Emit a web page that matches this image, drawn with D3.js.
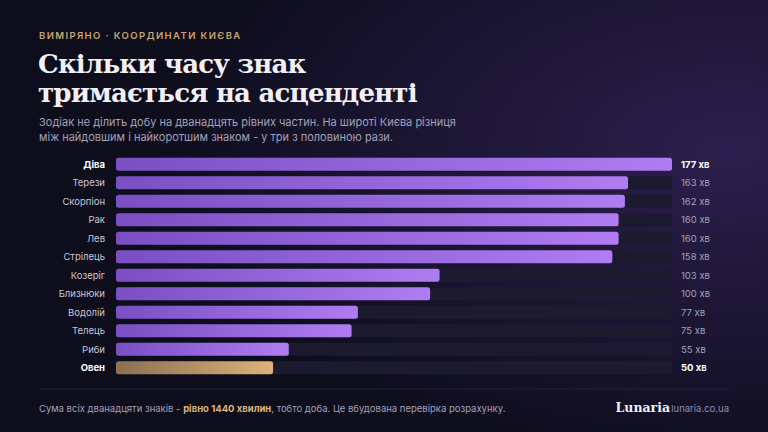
<!DOCTYPE html>
<html><head><meta charset="utf-8">
<script src="https://cdn.jsdelivr.net/npm/d3@7"></script>
<style>body{margin:0;background:#0d0d1c;}svg{display:block;font-family:Inter,"Noto Sans",sans-serif;}</style>
</head><body>
<svg id="c" width="768" height="432"></svg>
<script>
var signs = ["Діва","Терези","Скорпіон","Рак","Лев","Стрілець","Козеріг","Близнюки","Водолій","Телець","Риби","Овен"];
var minutes = [177,163,162,160,160,158,103,100,77,75,55,50];

var svg = d3.select("#c");
var defs = svg.append("defs");
var bg = defs.append("radialGradient").attr("id","glow").attr("cx","0.95").attr("cy","0.35").attr("r","0.75");
bg.append("stop").attr("offset","0").attr("stop-color","#2c1f4e");
bg.append("stop").attr("offset","1").attr("stop-color","#0d0d1c");
var gp = defs.append("linearGradient").attr("id","gp");
gp.append("stop").attr("offset","0").attr("stop-color","#7a4fc4");
gp.append("stop").attr("offset","1").attr("stop-color","#b07cf2");
var gg = defs.append("linearGradient").attr("id","gg");
gg.append("stop").attr("offset","0").attr("stop-color","#8a7050");
gg.append("stop").attr("offset","1").attr("stop-color","#ddb27a");

svg.append("rect").attr("width",768).attr("height",432).attr("fill","url(#glow)");

svg.append("text").attr("x",39).attr("y",39).attr("fill","#c9a56f").attr("font-size",9.5)
  .attr("font-weight",600).attr("letter-spacing",1.4).text("ВИМІРЯНО · КООРДИНАТИ КИЄВА");
svg.append("text").attr("x",38).attr("y",73).attr("fill","#f2f0f6").attr("font-size",26)
  .attr("font-weight",700).attr("font-family","'DejaVu Serif',serif").attr("letter-spacing",-0.8).text("Скільки часу знак");
svg.append("text").attr("x",38).attr("y",102).attr("fill","#f2f0f6").attr("font-size",26)
  .attr("font-weight",700).attr("font-family","'DejaVu Serif',serif").attr("letter-spacing",-0.8).text("тримається на асценденті");
svg.append("text").attr("x",39).attr("y",126).attr("fill","#a3a1b8").attr("font-size",11)
  .text("Зодіак не ділить добу на дванадцять рівних частин. На широті Києва різниця");
svg.append("text").attr("x",39).attr("y",141).attr("fill","#a3a1b8").attr("font-size",11)
  .text("між найдовшим і найкоротшим знаком - у три з половиною рази.");

var x = d3.scaleLinear().domain([0,177]).range([116,672]);
var y = d3.scaleBand().domain(signs).range([155,377]).paddingInner(0.3).paddingOuter(0.15);
var strong = function(d){return d==="Діва"||d==="Овен";};

var rows = svg.selectAll("g.row").data(signs).enter().append("g");
rows.append("rect").attr("x",x(0)).attr("y",function(d){return y(d);}).attr("width",x(177)-x(0))
  .attr("height",y.bandwidth()).attr("rx",2.5).attr("fill","#1b1a2e");
rows.append("rect").attr("x",x(0)).attr("y",function(d){return y(d);})
  .attr("width",function(d,i){return x(minutes[i])-x(0);}).attr("height",y.bandwidth()).attr("rx",2.5)
  .attr("fill",function(d){return d==="Овен"?"url(#gg)":"url(#gp)";});
rows.append("text").attr("x",105).attr("y",function(d){return y(d)+y.bandwidth()/2+3.5;})
  .attr("text-anchor","end").attr("font-size",9.5)
  .attr("font-weight",function(d){return strong(d)?700:400;})
  .attr("fill",function(d){return strong(d)?"#ffffff":"#c9c7d6";}).text(function(d){return d;});
rows.append("text").attr("x",681).attr("y",function(d){return y(d)+y.bandwidth()/2+3.5;})
  .attr("font-size",9.5).attr("font-weight",function(d){return strong(d)?700:400;})
  .attr("fill",function(d){return strong(d)?"#ffffff":"#a3a1b8";})
  .text(function(d,i){return minutes[i]+" хв";});

svg.append("line").attr("x1",39).attr("x2",730).attr("y1",389).attr("y2",389).attr("stroke","#22213a");
var ft = svg.append("text").attr("x",39).attr("y",412).attr("font-size",9.5).attr("fill","#a3a1b8");
ft.append("tspan").text("Сума всіх дванадцяти знаків - ");
ft.append("tspan").attr("fill","#dcb57c").attr("font-weight",700).text("рівно 1440 хвилин");
ft.append("tspan").text(", тобто доба. Це вбудована перевірка розрахунку.");
svg.append("text").attr("x",729).attr("y",412).attr("text-anchor","end").attr("font-size",9.5)
  .attr("fill","#8f8da6").text("lunaria.co.ua");
svg.append("text").attr("x",670).attr("y",412).attr("text-anchor","end").attr("font-size",12.5)
  .attr("font-weight",700).attr("fill","#f2f0f6").attr("font-family","'DejaVu Serif',serif").text("Lunaria");
</script>
</body></html>
